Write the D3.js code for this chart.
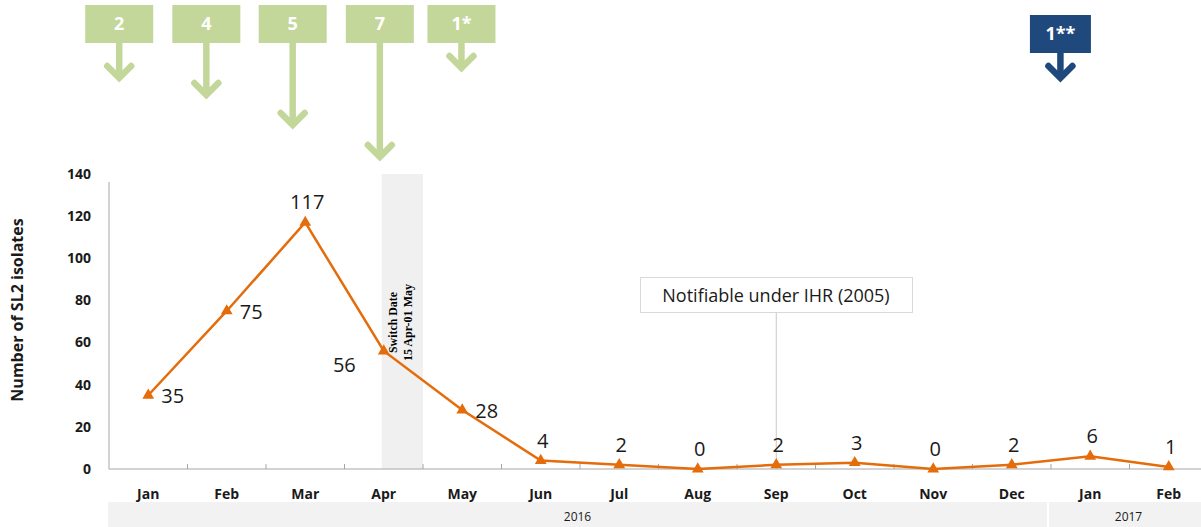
<!DOCTYPE html>
<html>
<head>
<meta charset="utf-8">
<script src="https://cdn.jsdelivr.net/npm/d3@7"></script>
<style>
  body { margin: 0; background: #fff; }
  svg { display: block; font-family: "Open Sans", sans-serif; }
</style>
</head>
<body>
<script>
// data
const months = ["Jan","Feb","Mar","Apr","May","Jun","Jul","Aug","Sep","Oct","Nov","Dec","Jan","Feb"]
const isolates = [35, 75, 117, 56, 28, 4, 2, 0, 2, 3, 0, 2, 6, 1]
const labelSide = ["right","right","above","left","right","above","above","above","above","above","above","above","above","above"]
const years = [{name: "2016", from: 0, to: 12}, {name: "2017", from: 12, to: 14}]
const yTicks = [0, 20, 40, 60, 80, 100, 120, 140]

// switches per period (month index, fractional), count label, arrow drop
const switches = [
  {at: -0.37, label: "2", drop: 38},
  {at: 0.74, label: "4", drop: 55},
  {at: 1.84, label: "5", drop: 85},
  {at: 2.95, label: "7", drop: 117},
  {at: 3.99, label: "1*", drop: 28}
]
const laterSwitch = {at: 11.62, label: "1**", drop: 28}

const W = 1201, H = 527
const svg = d3.select("body").append("svg").attr("width", W).attr("height", H)

const x0 = 109, x1 = 1208
const x = d3.scaleBand().domain(d3.range(months.length)).range([x0, x1])
const xc = i => x(0) + x.step() * (i + 0.5)
const y = d3.scaleLinear().domain([0, 140]).range([469, 174])

// switch period band 15 Apr - 01 May
svg.append("rect")
  .attr("x", xc(3) - 2).attr("y", y(140))
  .attr("width", x(4) - xc(3) + 2).attr("height", y(0) - y(140))
  .attr("fill", "#f0f0f0")

const sw = svg.append("text")
  .attr("transform", `translate(${xc(3) + 16},${y(70) + 1}) rotate(-90)`)
  .attr("text-anchor", "middle")
  .style("font-family", "'Liberation Serif', 'DejaVu Serif', serif")
  .style("font-weight", "bold").style("font-size", "12px")
sw.append("tspan").attr("x", 0).attr("dy", "-0.25em")
  .attr("textLength", 61).attr("lengthAdjust", "spacingAndGlyphs").text("Switch Date")
sw.append("tspan").attr("x", 0).attr("dy", "1.3em")
  .attr("textLength", 77).attr("lengthAdjust", "spacingAndGlyphs").text("15 Apr-01 May")

// IHR annotation
const ihrX = xc(8)
svg.append("line")
  .attr("x1", ihrX).attr("x2", ihrX).attr("y1", 312).attr("y2", y(0))
  .attr("stroke", "#c8c8c8").attr("stroke-width", 1)
svg.append("rect")
  .attr("x", 640.5).attr("y", 277.5).attr("width", 272).attr("height", 35)
  .attr("fill", "#fff").attr("stroke", "#d9d9d9")
svg.append("text")
  .attr("x", 776).attr("y", 302).attr("text-anchor", "middle")
  .style("font-size", "18px").attr("fill", "#1a1a1a")
  .text("Notifiable under IHR (2005)")

// axes
svg.append("line")
  .attr("x1", x0).attr("x2", x0).attr("y1", y(140) + 8).attr("y2", y(0))
  .attr("stroke", "#a6a6a6")
svg.append("line")
  .attr("x1", x0).attr("x2", W).attr("y1", y(0)).attr("y2", y(0))
  .attr("stroke", "#a6a6a6")
svg.selectAll(".xtick")
  .data(d3.range(1, months.length))
  .enter().append("line")
  .attr("x1", i => x(i)).attr("x2", i => x(i))
  .attr("y1", y(0)).attr("y2", y(0) - 5)
  .attr("stroke", "#a6a6a6")

svg.selectAll(".ylab")
  .data(yTicks)
  .enter().append("text")
  .attr("x", 91).attr("y", d => y(d)).attr("dy", "0.35em")
  .attr("text-anchor", "end")
  .style("font-size", "14px").style("font-weight", "bold").attr("fill", "#1a1a1a")
  .text(d => d)

svg.append("text")
  .attr("transform", "translate(23,310) rotate(-90)")
  .attr("text-anchor", "middle")
  .style("font-size", "16px").style("font-weight", "bold").attr("fill", "#1a1a1a")
  .text("Number of SL2 isolates")

svg.selectAll(".mlab")
  .data(months)
  .enter().append("text")
  .attr("x", (d, i) => xc(i)).attr("y", 499)
  .attr("text-anchor", "middle")
  .style("font-size", "14px").style("font-weight", "bold").attr("fill", "#1a1a1a")
  .text(d => d)

// year bands
years.forEach(yr => {
  const left = yr.from === 0 ? 108 : x(yr.from) - 2
  const right = yr.to === 12 ? x(yr.to) - 4 : W
  svg.append("rect")
    .attr("x", left).attr("y", 502).attr("width", right - left).attr("height", 25)
    .attr("fill", "#f2f2f2")
  svg.append("text")
    .attr("x", yr.to === 12 ? (left + right) / 2 : (left + x1) / 2).attr("y", 521)
    .attr("text-anchor", "middle")
    .style("font-size", "12px").attr("fill", "#1a1a1a")
    .text(yr.name)
})

// series
const orange = "#e46c0a"
const line = d3.line().x((d, i) => xc(i)).y(d => y(d))
svg.append("path")
  .datum(isolates)
  .attr("d", line)
  .attr("fill", "none").attr("stroke", orange).attr("stroke-width", 2.5)

svg.selectAll(".pt")
  .data(isolates)
  .enter().append("path")
  .attr("d", d3.symbol(d3.symbolTriangle, 60))
  .attr("transform", (d, i) => `translate(${xc(i)},${y(d)})`)
  .attr("fill", orange)

svg.selectAll(".vlab")
  .data(isolates)
  .enter().append("text")
  .attr("x", (d, i) => xc(i) + (labelSide[i] === "right" ? 13 : labelSide[i] === "left" ? -28 : 2))
  .attr("y", (d, i) => y(d) + (labelSide[i] === "above" ? -13 : labelSide[i] === "left" ? 21 : 8))
  .attr("text-anchor", (d, i) => labelSide[i] === "right" ? "start" : labelSide[i] === "left" ? "end" : "middle")
  .style("font-size", "20px").attr("fill", "#1a1a1a")
  .text(d => d)

// switch arrows
function arrow(g, d, color, boxW, boxH, boxTop) {
  const cx = xc(d.at)
  const top = boxTop + boxH
  const tip = top + d.drop
  g.append("rect")
    .attr("x", cx - boxW / 2).attr("y", boxTop).attr("width", boxW).attr("height", boxH)
    .attr("fill", color)
  g.append("text")
    .attr("x", cx).attr("y", boxTop + boxH / 2).attr("dy", "0.36em")
    .attr("text-anchor", "middle")
    .style("font-size", "18px").style("font-weight", "bold").attr("fill", "#fff")
    .text(d.label)
  g.append("line")
    .attr("x1", cx).attr("x2", cx).attr("y1", top).attr("y2", tip - 3)
    .attr("stroke", color).attr("stroke-width", 6.5)
  g.append("path")
    .attr("d", `M${cx - 12},${tip - 15} L${cx},${tip - 3} L${cx + 12},${tip - 15}`)
    .attr("fill", "none").attr("stroke", color).attr("stroke-width", 6.5)
    .attr("stroke-linecap", "round").attr("stroke-linejoin", "miter")
}

const ga = svg.append("g")
switches.forEach(d => arrow(ga, d, "#c4d79b", 68, 38, 5))
arrow(ga, laterSwitch, "#1f497d", 61, 38, 15)
</script>
</body>
</html>
